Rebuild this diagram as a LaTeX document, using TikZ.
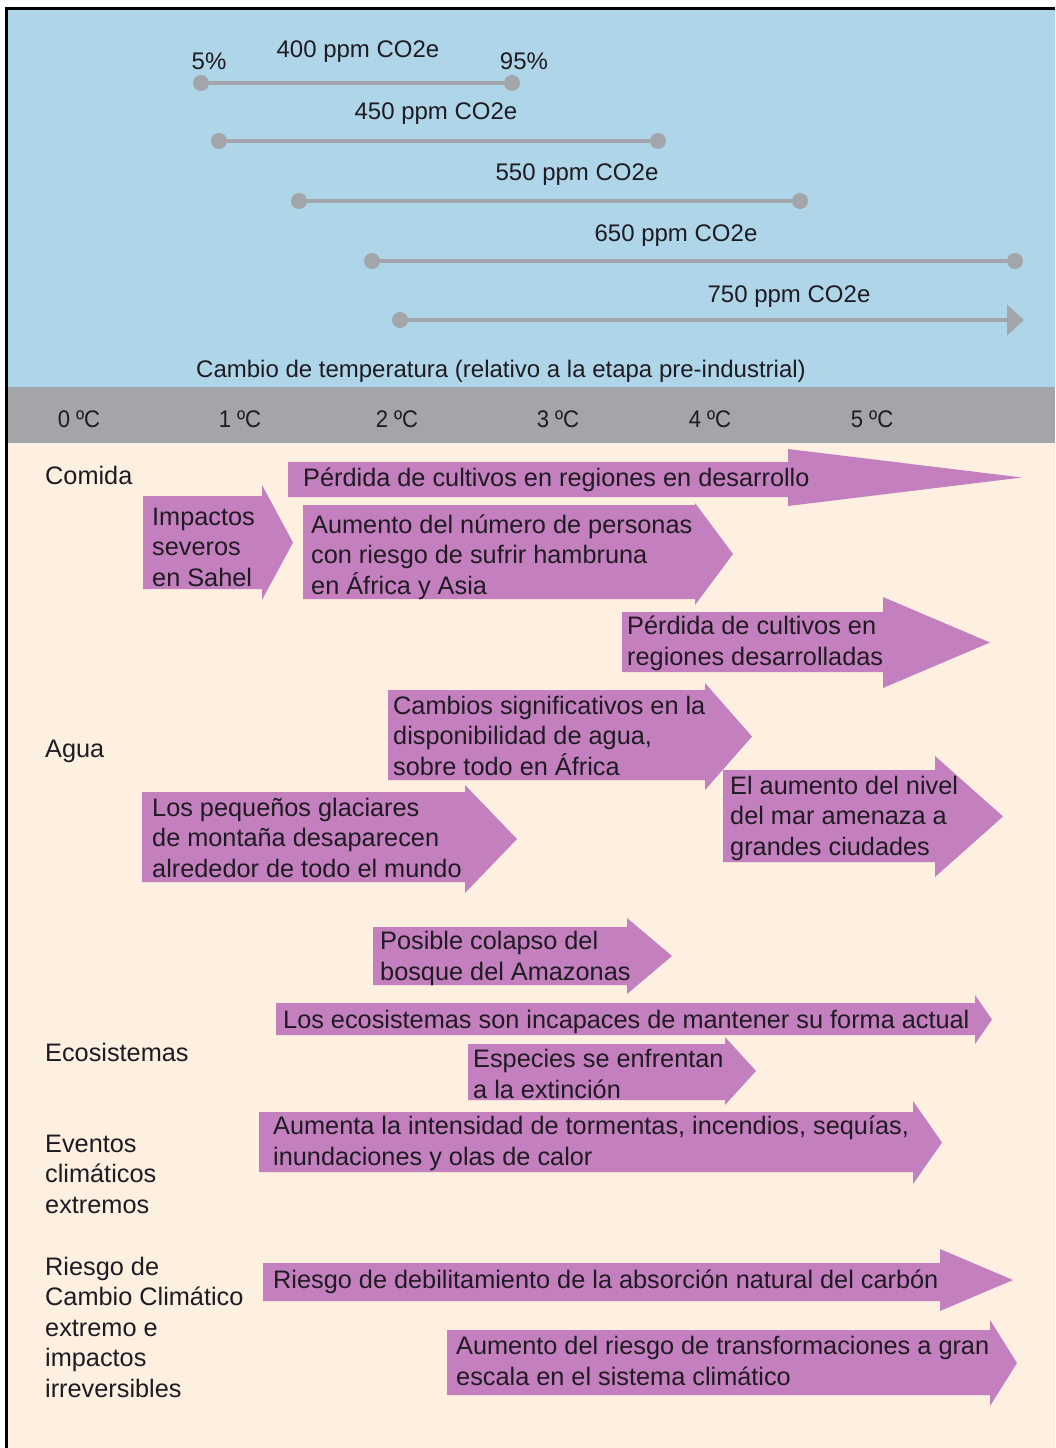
\documentclass[tikz,border=0pt]{standalone}
\usepackage{fontspec}
\usepackage{graphicx}
\setmainfont{Liberation Sans}
\usetikzlibrary{arrows.meta}

\definecolor{skyband}{HTML}{AED5E8}
\definecolor{scaleband}{HTML}{A3A5A9}
\definecolor{creamband}{HTML}{FDF0E1}
\definecolor{impact}{HTML}{C47FBE}
\definecolor{rangegrey}{HTML}{A2A6AA}
\definecolor{ink}{HTML}{1F1B22}

% impact arrow: body from xL (top yT, bottom yB), head starting at xH
% spanning yHT..yHB, tip at xTip
\newcommand{\impactshape}[7]{%
  \fill[impact] (#1,#2) -- (#4,#2) -- (#4,#5) -- (#7,{(#5+#6)/2})
    -- (#4,#6) -- (#4,#3) -- (#1,#3) -- cycle;}
\newcommand{\narrowdeg}[1]{\scalebox{0.92}[1]{#1}}

% multi-line labels are placed by the baseline of their last line
\tikzset{
  lbl/.style={anchor=base west, inner sep=0pt, align=left, text=ink,
    font=\fontsize{25.3}{30.5}\selectfont},
  toplbl/.style={anchor=base, inner sep=0pt, text=ink,
    font=\fontsize{24}{28}\selectfont},
  rangedot/.style={circle, fill=rangegrey, minimum size=16pt, inner sep=0pt},
  rangeline/.style={draw=rangegrey, line width=4pt},
}

\begin{document}
\begin{tikzpicture}[x=1pt,y=-1pt]
\useasboundingbox (0,0) rectangle (1055,1448);
\fill[white] (0,0) rectangle (1055,1448);

% bands
\fill[skyband] (8,10) rectangle (1055,387);
\fill[scaleband] (8,387) rectangle (1055,443);
\fill[creamband] (8,443) rectangle (1055,1448);
\draw[white!85!scaleband, line width=1.5pt] (8,443.5) -- (1055,443.5);

% frame
\draw[black, line width=3pt] (5,8.5) -- (1055,8.5);
\draw[black, line width=3pt] (6.5,7) -- (6.5,1448);

% concentration ranges
\node[toplbl] (p5)  at (209,69) {5\%};
\node[toplbl] (c400) at (358,57) {400 ppm CO2e};
\node[toplbl] (p95) at (524,69) {95\%};
\node[rangedot] (r1a) at (201,83) {};
\node[rangedot] (r1b) at (512,83) {};
\draw[rangeline] (r1a) -- (r1b);

\node[toplbl] (c450) at (436,119) {450 ppm CO2e};
\node[rangedot] (r2a) at (219,141) {};
\node[rangedot] (r2b) at (658,141) {};
\draw[rangeline] (r2a) -- (r2b);

\node[toplbl] (c550) at (577,180) {550 ppm CO2e};
\node[rangedot] (r3a) at (299,201) {};
\node[rangedot] (r3b) at (800,201) {};
\draw[rangeline] (r3a) -- (r3b);

\node[toplbl] (c650) at (676,241) {650 ppm CO2e};
\node[rangedot] (r4a) at (372,261) {};
\node[rangedot] (r4b) at (1015,261) {};
\draw[rangeline] (r4a) -- (r4b);

\node[toplbl] (c750) at (789,302) {750 ppm CO2e};
\node[rangedot] (r5a) at (400,320) {};
\coordinate (r5b) at (1024,320);
\draw[rangeline, -{Triangle[length=17pt,width=30pt]}] (r5a) -- (r5b);

\node[toplbl] (axis) at (501,377)
  {Cambio de temperatura (relativo a la etapa pre-industrial)};

% temperature scale
\node[toplbl] (t0) at (79,427) {\narrowdeg{0 ºC}};
\node[toplbl] (t1) at (240,427) {\narrowdeg{1 ºC}};
\node[toplbl] (t2) at (397,427) {\narrowdeg{2 ºC}};
\node[toplbl] (t3) at (558,427) {\narrowdeg{3 ºC}};
\node[toplbl] (t4) at (710,427) {\narrowdeg{4 ºC}};
\node[toplbl] (t5) at (872,427) {\narrowdeg{5 ºC}};

% sector labels
\node[lbl] (comida) at (45,484) {Comida};
\node[lbl] (agua) at (45,757) {Agua};
\node[lbl] (eco) at (45,1061) {Ecosistemas};
\node[lbl] (eventos) at (45,1213) {Eventos\\climáticos\\extremos};
\node[lbl] (riesgo) at (45,1397)
  {Riesgo de\\Cambio Climático\\extremo e\\impactos\\irreversibles};

% food
\impactshape{288}{462}{497}{788}{449}{506}{1022}
\node[lbl] (a1) at (303,486) {Pérdida de cultivos en regiones en desarrollo};
\impactshape{143}{496}{589}{262}{485}{600}{293}
\node[lbl] (a2) at (152,586) {Impactos\\severos\\en Sahel};
\impactshape{303}{505}{599}{695}{503}{605}{733}
\node[lbl] (a3) at (311,594)
  {Aumento del número de personas\\con riesgo de sufrir hambruna\\en África y Asia};
\impactshape{622}{612}{672}{883}{597}{688}{990}
\node[lbl] (a4) at (627,665) {Pérdida de cultivos en\\regiones desarrolladas};

% water
\impactshape{388}{690}{780}{705}{683}{790}{752}
\node[lbl] (a5) at (393,775)
  {Cambios significativos en la\\disponibilidad de agua,\\sobre todo en África};
\impactshape{723}{770}{862}{935}{756}{877}{1003}
\node[lbl] (a6) at (730,855)
  {El aumento del nivel\\del mar amenaza a\\grandes ciudades};
\impactshape{142}{792}{882}{465}{785}{893}{517}
\node[lbl] (a7) at (152,877)
  {Los pequeños glaciares\\de montaña desaparecen\\alrededor de todo el mundo};

% ecosystems
\impactshape{373}{927}{985}{627}{918}{994}{672}
\node[lbl] (a8) at (380,980) {Posible colapso del\\bosque del Amazonas};
\impactshape{276}{1003}{1035}{975}{995}{1044}{992}
\node[lbl] (a9) at (283,1028)
  {Los ecosistemas son incapaces de mantener su forma actual};
\impactshape{468}{1044}{1100}{725}{1037}{1105}{756}
\node[lbl] (a10) at (473,1098) {Especies se enfrentan\\a la extinción};

% extreme events
\impactshape{259}{1112}{1172}{913}{1101}{1184}{942}
\node[lbl] (a11) at (273,1165)
  {Aumenta la intensidad de tormentas, incendios, sequías,\\inundaciones y olas de calor};

% irreversible impacts
\impactshape{263}{1263}{1301}{940}{1249}{1311}{1013}
\node[lbl] (a12) at (273,1288)
  {Riesgo de debilitamiento de la absorción natural del carbón};
\impactshape{447}{1330}{1395}{990}{1320}{1406}{1017}
\node[lbl] (a13) at (456,1385)
  {Aumento del riesgo de transformaciones a gran\\escala en el sistema climático};
\end{tikzpicture}
\end{document}
